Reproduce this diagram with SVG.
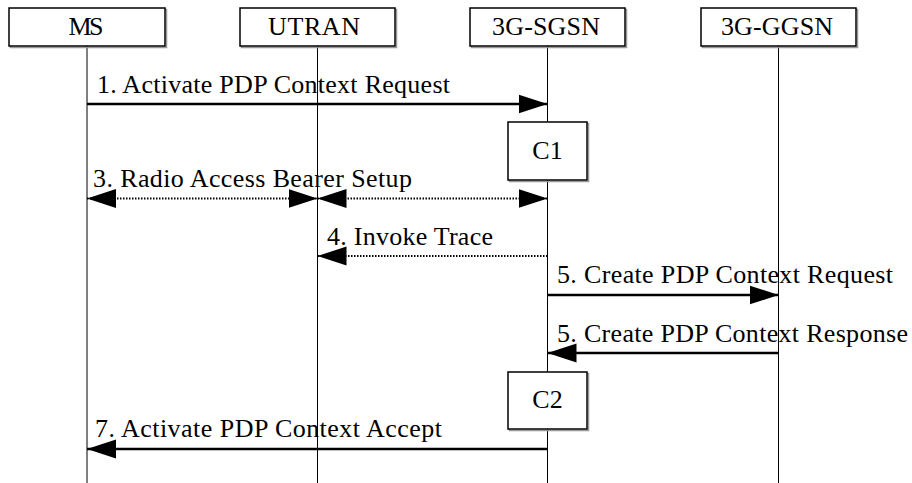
<svg xmlns="http://www.w3.org/2000/svg" width="912" height="483" viewBox="0 0 912 483">
<style>
.box{fill:#fff;stroke:#000;stroke-width:1.5}
.sh{fill:none;stroke:#999;stroke-width:1.5}
.life{stroke:#000;stroke-width:1;fill:none}
.t{font-family:"Liberation Serif","Times New Roman",serif;font-size:26px;fill:#000}
.c{text-anchor:middle}
.solid{stroke:#000;stroke-width:2.5;fill:none}
.dot{stroke:#000;stroke-width:2;stroke-dasharray:1.5 1.5;fill:none}
</style>
<defs>
<marker id="ah" markerUnits="userSpaceOnUse" markerWidth="30" markerHeight="20" refX="29" refY="10" orient="auto-start-reverse" viewBox="0 0 30 20">
<polygon points="29,10 0,0.5 0,19.5" fill="#000"/>
</marker>
</defs>
<g id="lifelines">
<line class="life" x1="87" y1="46" x2="87" y2="483"/>
<line class="life" x1="317.5" y1="46" x2="317.5" y2="483"/>
<line class="life" x1="547.5" y1="46" x2="547.5" y2="483"/>
<line class="life" x1="778.5" y1="46" x2="778.5" y2="483"/>
</g>
<g id="MS">
<rect class="sh" x="10.5" y="9.5" width="156" height="38"/>
<rect class="box" x="9" y="8" width="156" height="38"/>
<text class="t c" x="86" y="35" textLength="35">MS</text>
</g>
<g id="UTRAN">
<rect class="sh" x="241.5" y="9.5" width="155" height="38"/>
<rect class="box" x="240" y="8" width="155" height="38"/>
<text class="t c" x="314" y="35" textLength="92">UTRAN</text>
</g>
<g id="SGSN">
<rect class="sh" x="471.5" y="9.5" width="155" height="38"/>
<rect class="box" x="470" y="8" width="155" height="38"/>
<text class="t c" x="546" y="35" textLength="108">3G-SGSN</text>
</g>
<g id="GGSN">
<rect class="sh" x="702.5" y="9.5" width="155" height="38"/>
<rect class="box" x="701" y="8" width="155" height="38"/>
<text class="t c" x="777" y="35" textLength="112">3G-GGSN</text>
</g>
<g id="C1">
<rect class="sh" x="509.5" y="123.5" width="79" height="58"/>
<rect class="box" x="508" y="122" width="79" height="58"/>
<text class="t c" x="547.5" y="159">C1</text>
</g>
<g id="C2">
<rect class="sh" x="509.5" y="373.5" width="79" height="57"/>
<rect class="box" x="508" y="372" width="79" height="57"/>
<text class="t c" x="547.5" y="408">C2</text>
</g>
<g id="connectors">
<line class="solid" x1="87" y1="104" x2="547.5" y2="104" marker-end="url(#ah)"/>
<line class="dot" x1="87" y1="198.5" x2="317.5" y2="198.5" marker-start="url(#ah)" marker-end="url(#ah)"/>
<line class="dot" x1="317.5" y1="198.5" x2="547.5" y2="198.5" marker-start="url(#ah)" marker-end="url(#ah)"/>
<line class="dot" x1="547.5" y1="256" x2="317.5" y2="256" marker-end="url(#ah)"/>
<line class="solid" x1="547.5" y1="295" x2="778.5" y2="295" marker-end="url(#ah)"/>
<line class="solid" x1="778.5" y1="353" x2="547.5" y2="353" marker-end="url(#ah)"/>
<line class="solid" x1="547.5" y1="449" x2="87" y2="449" marker-end="url(#ah)"/>
</g>
<g id="labels">
<text class="t" x="97" y="93" textLength="353">1. Activate PDP Context Request</text>
<text class="t" x="93" y="187" textLength="319">3. Radio Access Bearer Setup</text>
<text class="t" x="327" y="245" textLength="166">4. Invoke Trace</text>
<text class="t" x="557" y="283" textLength="336">5. Create PDP Context Request</text>
<text class="t" x="557" y="342" textLength="351">5. Create PDP Context Response</text>
<text class="t" x="95" y="437" textLength="347">7. Activate PDP Context Accept</text>
</g>
</svg>
